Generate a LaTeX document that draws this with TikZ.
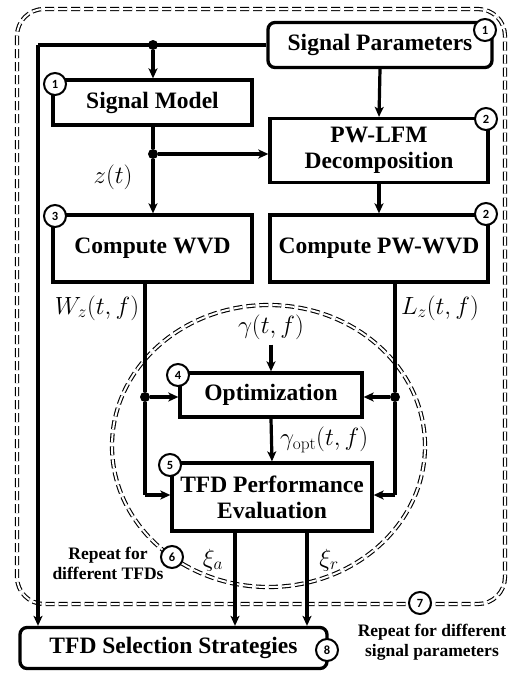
\documentclass[tikz,border=0pt]{standalone}
\usepackage[no-math]{fontspec}
\setmainfont{Liberation Serif}
\newfontfamily\badgefont{Carlito}
\usetikzlibrary{arrows.meta,calc}
\begin{document}
\begin{tikzpicture}[x=1pt,y=-1pt,
  box/.style={draw, line width=3.3pt, font=\fontsize{23.5}{26}\selectfont\bfseries, align=center, inner sep=0pt},
  rbox/.style={box, rounded corners=7pt},
  badge/.style={draw, circle, fill=white, line width=2pt, minimum size=22pt, inner sep=0pt, font=\badgefont\fontsize{12.5}{12.5}\selectfont\bfseries},
  conn/.style={line width=3.2pt},
  arr/.style={conn, -{Stealth[length=10pt,width=9pt,inset=2.5pt]}},
  jdot/.style={circle, fill=black, inner sep=0pt, minimum size=10pt},
  lbl/.style={font=\fontsize{23}{23}\selectfont, inner sep=0pt},
  rep/.style={font=\fontsize{17.5}{20}\selectfont\bfseries, align=center, inner sep=0pt},
  dd/.style={draw, line width=1.1pt, double distance=2pt, dash pattern=on 9pt off 4pt},
]
\useasboundingbox (0,0) rectangle (518,673);

% dashed loops
\draw[dd, rounded corners=27pt] (17,9) rectangle (505,604);
\draw[dd] (268.5,446) ellipse [x radius=156.5pt, y radius=141pt];

% boxes
\node[rbox, minimum width=224pt, minimum height=45pt] (sp) at (380,45) {Signal Parameters};
\node[box, minimum width=199pt, minimum height=45pt] (sm) at (152.5,102.5) {Signal Model};
\node[box, minimum width=218pt, minimum height=64pt] (pw) at (379,150.5) {PW-LFM\\Decomposition};
\node[box, minimum width=199pt, minimum height=67pt] (wvd) at (152.5,248.5) {Compute WVD};
\node[box, minimum width=218pt, minimum height=67pt] (pwwvd) at (379,248.5) {Compute PW-WVD};
\node[box, minimum width=182pt, minimum height=44pt] (opt) at (271,395) {Optimization};
\node[box, minimum width=200pt, minimum height=68pt] (tfd) at (272,497) {TFD Performance\\Evaluation};
\node[rbox, minimum width=307pt, minimum height=41pt] (sel) at (173.5,648) {TFD Selection Strategies};

% coordinates and junctions
\node[jdot] (j1) at (153,45) {};
\node[jdot] (j2) at (153,154) {};
\node[jdot] (j3) at (145,397) {};
\node[jdot] (j4) at (395,397) {};
\coordinate (c1) at (38,45);
\coordinate (c2) at (145,495);
\coordinate (c3) at (395,495);

% labels
\node[lbl] (zt) at (113,177) {$z(t)$};
\node[lbl] (wz) at (97,308) {$W_z(t,f)$};
\node[lbl] (lz) at (440,308) {$L_z(t,f)$};
\node[lbl] (gam) at (271,327) {$\gamma(t,f)$};
\node[lbl, anchor=west] (gopt) at (280,440) {$\gamma_{\mathrm{opt}}(t,f)$};
\node[lbl] (xa) at (213,560) {$\xi_a$};
\node[lbl] (xr) at (329,560) {$\xi_r$};
\node[rep] (rep1) at (108,563) {Repeat for\\different TFDs};
\node[rep] (rep2) at (432,642) {Repeat for different\\signal parameters};

% connectors
\draw[conn] (sp.west |- j1) -- (c1);
\draw[arr] (c1) -- (c1 |- sel.north);
\draw[arr] (j1) -- (sm.north -| j1);
\draw[arr] (sp.south) -- (pw.north);
\draw[conn] (sm.south -| j2) -- (j2);
\draw[arr] (j2) -- (wvd.north -| j2);
\draw[arr] (j2) -- (pw.west |- j2);
\draw[arr] (pw.south) -- (pwwvd.north);
\draw[conn] (wvd.south -| j3) -- (j3);
\draw[conn] (j3) -- (c2);
\draw[arr] (c2) -- (tfd.west |- c2);
\draw[arr] (j3) -- (opt.west |- j3);
\draw[conn] (pwwvd.south -| j4) -- (j4);
\draw[conn] (j4) -- (c3);
\draw[arr] (c3) -- (tfd.east |- c3);
\draw[arr] (j4) -- (opt.east |- j4);
\draw[arr] (gam.south) ++(0,5) coordinate (g0) (g0) -- (opt.north);
\draw[arr] (opt.south) -- (tfd.north);
\draw[arr] ($(tfd.south)+(-37,0)$) coordinate (ta) -- (ta |- sel.north);
\draw[arr] ($(tfd.south)+(35,0)$) coordinate (tr) -- (tr |- sel.north);

% badges
\node[badge] (b1) at (485,30) {1};
\node[badge] (b2) at (55,84) {1};
\node[badge] (b3) at (486,119) {2};
\node[badge] (b4) at (55,216) {3};
\node[badge] (b5) at (486,214) {2};
\node[badge] (b6) at (178,375) {4};
\node[badge] (b7) at (170,465) {5};
\node[badge] (b8) at (172,557) {6};
\node[badge] (b9) at (420,603) {7};
\node[badge] (b10) at (327,650) {8};
\end{tikzpicture}
\end{document}
